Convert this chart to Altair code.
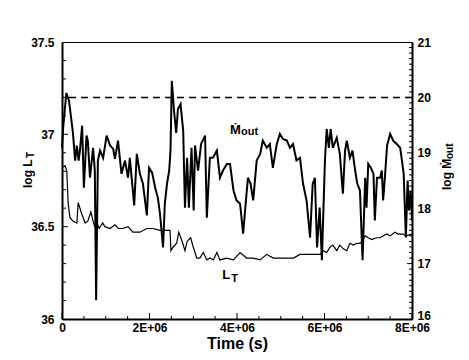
import altair as alt
import pandas as pd

FONT = "Liberation Sans"

# ---- data (time in units of 1e6 s) ----
mdot_t = [0.00, 0.03, 0.10, 0.16, 0.25, 0.30, 0.34, 0.38, 0.41, 0.46,
          0.50, 0.56, 0.59, 0.64, 0.71, 0.75, 0.78, 0.82, 0.87, 0.94,
          1.02, 1.10, 1.17, 1.21, 1.28, 1.36, 1.44, 1.51, 1.55, 1.65,
          1.71, 1.78, 1.85, 1.94, 1.99, 2.06, 2.13, 2.19, 2.24, 2.31,
          2.35, 2.40, 2.45, 2.48, 2.51, 2.56, 2.61, 2.65, 2.71, 2.77,
          2.81, 2.86, 2.90, 2.96, 3.01, 3.04, 3.11, 3.18, 3.27, 3.31,
          3.38, 3.45, 3.54, 3.61, 3.68, 3.77, 3.84, 3.92, 3.99, 4.07,
          4.14, 4.19, 4.25, 4.31, 4.37, 4.45, 4.53, 4.59, 4.68, 4.75,
          4.82, 4.91, 4.98, 5.05, 5.14, 5.21, 5.28, 5.36, 5.44, 5.51,
          5.59, 5.67, 5.73, 5.78, 5.83, 5.89, 5.94, 6.01, 6.05, 6.10,
          6.14, 6.19, 6.28, 6.35, 6.42, 6.47, 6.51, 6.58, 6.64, 6.70,
          6.75, 6.81, 6.87, 6.93, 6.96, 7.00, 7.06, 7.12, 7.15, 7.20,
          7.27, 7.31, 7.34, 7.38, 7.43, 7.50, 7.57, 7.65, 7.73, 7.77,
          7.81, 7.86, 7.90, 7.93, 7.97, 8.00]
mdot_v = [19.09, 19.49, 20.08, 19.94, 19.36, 18.86, 19.13, 18.86, 19.04, 19.49,
          18.37, 19.31, 19.22, 18.55, 19.09, 18.68, 16.34, 18.86, 19.04, 18.91,
          19.31, 19.13, 19.07, 18.89, 19.22, 18.62, 18.86, 18.55, 18.91, 18.05,
          18.98, 18.62, 18.44, 17.87, 18.73, 18.64, 18.37, 18.19, 17.90, 17.29,
          18.08, 18.44, 18.68, 19.04, 20.30, 19.76, 19.36, 19.79, 19.88, 19.40,
          18.01, 18.91, 18.01, 19.09, 17.96, 19.13, 18.68, 19.16, 19.31, 17.83,
          18.91, 18.91, 19.04, 18.55, 18.68, 18.80, 18.80, 18.32, 18.14, 18.08,
          17.54, 18.01, 18.55, 18.44, 18.14, 18.86, 18.98, 19.22, 19.09, 19.16,
          18.73, 19.16, 19.34, 19.25, 19.22, 19.09, 19.16, 18.86, 18.91, 18.44,
          18.14, 17.47, 18.44, 18.55, 17.29, 18.01, 17.06, 18.86, 19.43, 19.09,
          19.43, 19.09, 19.27, 18.98, 18.26, 19.04, 19.22, 18.91, 19.04, 18.68,
          18.44, 18.32, 17.06, 18.55, 18.01, 18.80, 18.73, 18.62, 17.78, 18.55,
          18.55, 18.68, 18.14, 18.55, 19.13, 19.34, 19.22, 19.16, 19.09, 18.86,
          18.62, 17.47, 18.50, 17.96, 18.32, 17.78]

lt_t = [0.00, 0.07, 0.11, 0.14, 0.18, 0.25, 0.34, 0.37, 0.45, 0.53,
        0.59, 0.66, 0.71, 0.75, 0.80, 0.85, 0.93, 0.98, 1.10, 1.21,
        1.29, 1.39, 1.51, 1.62, 1.78, 1.94, 2.08, 2.24, 2.47, 2.49,
        2.54, 2.62, 2.67, 2.76, 2.81, 2.86, 2.94, 3.00, 3.08, 3.15,
        3.23, 3.31, 3.38, 3.46, 3.54, 3.61, 3.76, 3.92, 4.07, 4.22,
        4.37, 4.53, 4.68, 4.83, 4.98, 5.14, 5.29, 5.44, 5.59, 5.74,
        5.90, 5.97, 6.05, 6.13, 6.19, 6.28, 6.35, 6.43, 6.51, 6.58,
        6.66, 6.74, 6.81, 6.86, 6.93, 7.00, 7.08, 7.19, 7.27, 7.42,
        7.50, 7.61, 7.69, 7.80, 7.86, 8.00]
lt_v = [36.82, 36.83, 36.80, 36.63, 36.55, 36.53, 36.52, 36.63, 36.57, 36.52,
        36.53, 36.58, 36.53, 36.50, 36.52, 36.49, 36.52, 36.50, 36.49, 36.51,
        36.49, 36.49, 36.50, 36.47, 36.47, 36.49, 36.49, 36.48, 36.48, 36.37,
        36.39, 36.41, 36.47, 36.41, 36.37, 36.42, 36.44, 36.39, 36.33, 36.33,
        36.36, 36.32, 36.33, 36.32, 36.36, 36.32, 36.33, 36.32, 36.36, 36.33,
        36.33, 36.32, 36.35, 36.33, 36.33, 36.33, 36.33, 36.35, 36.35, 36.35,
        36.35, 36.37, 36.36, 36.39, 36.40, 36.37, 36.40, 36.38, 36.37, 36.41,
        36.40, 36.41, 36.41, 36.42, 36.45, 36.44, 36.43, 36.44, 36.44, 36.46,
        36.45, 36.47, 36.46, 36.46, 36.45, 36.46]

dash_level = [20]

x_label_vals = [0, 2e6, 4e6, 6e6, 8e6]
x_minor_vals = [0.5e6, 1e6, 1.5e6, 2.5e6, 3e6, 3.5e6, 4.5e6, 5e6, 5.5e6, 6.5e6, 7e6, 7.5e6]
left_label_vals = [36, 36.5, 37, 37.5]
left_major_vals = [36.5, 37.0]
left_minor_vals = [36.1, 36.2, 36.3, 36.4, 36.6, 36.7, 36.8, 36.9, 37.1, 37.2, 37.3, 37.4]
right_label_vals = [16, 17, 18, 19, 20, 21]
right_major_vals = [17, 18, 19, 20]
right_minor_vals = [round(16 + 0.1 * k, 1) for k in range(1, 50) if k % 10 != 0]

# annotation anchors (data coordinates)
lt_label_pos = [3.66e6, 36.217]
mdot_label_pos = [3.84e6, 19.34]

W, H = 350, 277

mdot_df = pd.DataFrame({"t": [v * 1e6 for v in mdot_t], "v": mdot_v})
lt_df = pd.DataFrame({"t": [v * 1e6 for v in lt_t], "v": lt_v})

x_scale = alt.Scale(domain=[0, 8e6], nice=False, zero=False)
yl_scale = alt.Scale(domain=[36, 37.5], nice=False, zero=False)
yr_scale = alt.Scale(domain=[16, 21], nice=False, zero=False)

common_axis = dict(ticks=False, grid=False, domainWidth=2, domainColor="black",
                   labelFont=FONT, labelFontSize=12, labelFontWeight="bold",
                   labelColor="black", labelOverlap=False, labelFlush=False)

x_axis = alt.Axis(values=x_label_vals,
                  labelExpr="datum.value == 0 ? '0' : format(datum.value/1e6, 'd') + 'E+06'",
                  labelPadding=3, title="Time (s)", titleFont=FONT, titleFontSize=16,
                  titleFontWeight="bold", titleColor="black", titlePadding=2, **common_axis)
yl_axis = alt.Axis(values=left_label_vals, format=".1~f", labelPadding=8, title=None,
                   **common_axis)
yr_axis = alt.Axis(values=right_label_vals, format="d", labelPadding=5, title=None,
                   orient="right",
                   labelBaseline={"condition": {"test": "datum.value == 16", "value": "alphabetic"},
                                  "value": "middle"},
                   **common_axis)

X = lambda: alt.X("t:Q", scale=x_scale, axis=x_axis)
YL = lambda: alt.Y("v:Q", scale=yl_scale, axis=yl_axis)
YR = lambda: alt.Y("v:Q", scale=yr_scale, axis=yr_axis)

one = alt.Data(values=[{}])

# ---- left layer ----
lt_line = alt.Chart(lt_df).mark_line(color="black", strokeWidth=1.2).encode(x=X(), y=YL())

def hticks(vals, Y, x0, x1):
    return alt.Chart(pd.DataFrame({"v": vals})).mark_rule(color="black", strokeWidth=1).encode(
        y=Y(), x=alt.value(x0), x2=alt.value(x1))

def vticks(vals, length):
    return alt.Chart(pd.DataFrame({"t": vals})).mark_rule(color="black", strokeWidth=1).encode(
        x=X(), y=alt.value(H), y2=alt.value(H - length))

lt_label = alt.Chart(pd.DataFrame({"t": [lt_label_pos[0]], "v": [lt_label_pos[1]]}))
lt_L = lt_label.mark_text(text="L", font=FONT, fontSize=13, fontWeight="bold",
                          align="left", baseline="alphabetic", color="black").encode(x=X(), y=YL())
lt_T = lt_label.mark_text(text="T", font=FONT, fontSize=11, fontWeight="bold",
                          align="left", baseline="alphabetic", color="black", dx=9, dy=3).encode(
    x=X(), y=YL())

title_l1 = alt.Chart(one).mark_text(text="log L", font=FONT, fontSize=12, fontWeight="bold",
                                    angle=270, align="left", baseline="middle", color="black").encode(
    x=alt.value(-34), y=alt.value(146))
title_l2 = alt.Chart(one).mark_text(text="T", font=FONT, fontSize=10, fontWeight="bold",
                                    angle=270, align="left", baseline="middle", color="black").encode(
    x=alt.value(-31), y=alt.value(116))

left = alt.layer(
    lt_line,
    hticks(left_major_vals, YL, 0, 6),
    hticks(left_minor_vals, YL, 0, 4),
    vticks(x_label_vals, 6),
    vticks(x_minor_vals, 3),
    lt_L, lt_T, title_l1, title_l2,
)

# ---- right layer ----
mdot_line = alt.Chart(mdot_df).mark_line(color="black", strokeWidth=2).encode(x=X(), y=YR())
dash = alt.Chart(pd.DataFrame({"v": dash_level})).mark_rule(
    color="black", strokeWidth=1.5, strokeDash=[7, 5]).encode(y=YR())

md_label = alt.Chart(pd.DataFrame({"t": [mdot_label_pos[0]], "v": [mdot_label_pos[1]]}))
md_M = md_label.mark_text(text="Ṁ", font=FONT, fontSize=13, fontWeight="bold",
                          align="left", baseline="alphabetic", color="black").encode(x=X(), y=YR())
md_out = md_label.mark_text(text="out", font=FONT, fontSize=11, fontWeight="bold",
                            align="left", baseline="alphabetic", color="black", dx=11, dy=1).encode(
    x=X(), y=YR())

title_r1 = alt.Chart(one).mark_text(text="log Ṁ", font=FONT, fontSize=12, fontWeight="bold",
                                    angle=270, align="left", baseline="middle", color="black").encode(
    x=alt.value(385), y=alt.value(148))
title_r2 = alt.Chart(one).mark_text(text="out", font=FONT, fontSize=10, fontWeight="bold",
                                    angle=270, align="left", baseline="middle", color="black").encode(
    x=alt.value(388), y=alt.value(117))

right = alt.layer(
    mdot_line, dash,
    hticks(right_major_vals, YR, W, W - 5),
    hticks(right_minor_vals, YR, W, W - 3),
    md_M, md_out, title_r1, title_r2,
)

chart = alt.layer(left, right).resolve_scale(y="independent").properties(
    width=W, height=H,
    autosize=alt.AutoSizeParams(type="none"),
    padding={"left": 54, "top": 34, "right": 49, "bottom": 33},
    background="white",
).configure_view(stroke="black", strokeWidth=1)

chart.save("out.html", embed_options={"renderer": "svg", "actions": False})
